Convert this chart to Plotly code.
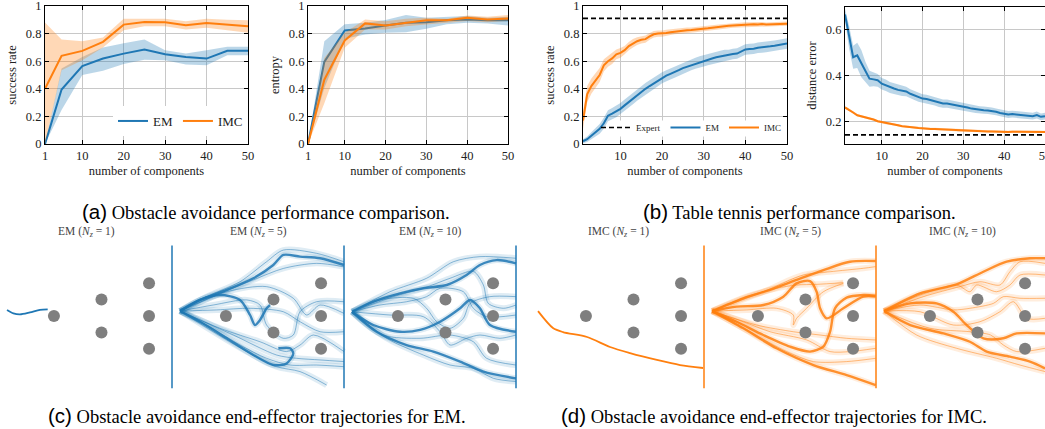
import plotly.graph_objects as go
import numpy as np

W, H = 1045, 429
BLUE = "#1f77b4"
ORANGE = "#ff7f0e"
SERIF = "Liberation Serif"

# ---------------- (a) obstacle avoidance ----------------
OA_X = [1, 5, 10, 15, 20, 25, 30, 35, 40, 45, 50]
OA_SR_EM = [0.0, 0.395, 0.564, 0.619, 0.655, 0.684, 0.65, 0.631, 0.619, 0.675, 0.675]
OA_SR_EM_LO = [0.0, 0.246, 0.50, 0.53, 0.58, 0.61, 0.607, 0.576, 0.571, 0.643, 0.643]
OA_SR_EM_HI = [0.0, 0.547, 0.63, 0.70, 0.73, 0.757, 0.68, 0.655, 0.68, 0.704, 0.704]
OA_SR_IMC = [0.40, 0.639, 0.675, 0.74, 0.865, 0.884, 0.882, 0.86, 0.877, 0.867, 0.853]
OA_SR_IMC_LO = [0.0, 0.535, 0.607, 0.70, 0.824, 0.853, 0.853, 0.83, 0.843, 0.824, 0.807]
OA_SR_IMC_HI = [0.88, 0.757, 0.745, 0.771, 0.908, 0.908, 0.908, 0.89, 0.908, 0.90, 0.896]

OA_ENT_EM = [0.0, 0.595, 0.823, 0.837, 0.859, 0.879, 0.883, 0.896, 0.903, 0.896, 0.896]
OA_ENT_EM_LO = [0.0, 0.405, 0.762, 0.794, 0.806, 0.81, 0.835, 0.867, 0.879, 0.874, 0.859]
OA_ENT_EM_HI = [0.0, 0.745, 0.867, 0.879, 0.898, 0.934, 0.915, 0.92, 0.927, 0.915, 0.922]
OA_ENT_IMC = [0.0, 0.466, 0.75, 0.874, 0.859, 0.879, 0.896, 0.896, 0.915, 0.903, 0.91]
OA_ENT_IMC_LO = [0.0, 0.296, 0.697, 0.83, 0.83, 0.854, 0.867, 0.879, 0.891, 0.883, 0.891]
OA_ENT_IMC_HI = [0.0, 0.624, 0.806, 0.903, 0.89, 0.908, 0.915, 0.908, 0.932, 0.922, 0.934]

# ---------------- (b) table tennis ----------------
TT_X = list(range(1, 51))
TT_EXPERT = 0.91
TT_SR_EM = [0.02, 0.035, 0.06, 0.085, 0.11, 0.15, 0.205, 0.22, 0.235, 0.255,
            0.28, 0.305, 0.33, 0.355, 0.375, 0.40, 0.42, 0.44, 0.46, 0.48,
            0.495, 0.508, 0.52, 0.535, 0.55, 0.56, 0.575, 0.585, 0.595, 0.602,
            0.61, 0.62, 0.628, 0.635, 0.643, 0.645, 0.652, 0.655, 0.67, 0.685,
            0.688, 0.69, 0.698, 0.70, 0.703, 0.708, 0.712, 0.716, 0.722, 0.728]
TT_SR_EM_STD = [0.015, 0.02, 0.025, 0.03, 0.035, 0.04, 0.04, 0.04, 0.042, 0.042,
                0.042, 0.042, 0.042, 0.042, 0.042, 0.042, 0.042, 0.042, 0.042, 0.04,
                0.04, 0.04, 0.04, 0.04, 0.04, 0.04, 0.04, 0.04, 0.04, 0.04,
                0.04, 0.04, 0.04, 0.04, 0.04, 0.038, 0.038, 0.038, 0.038, 0.038,
                0.038, 0.038, 0.038, 0.038, 0.038, 0.038, 0.038, 0.038, 0.038, 0.038]
TT_SR_IMC = [0.17, 0.36, 0.42, 0.46, 0.50, 0.57, 0.60, 0.62, 0.65, 0.66,
             0.68, 0.71, 0.73, 0.745, 0.755, 0.76, 0.78, 0.795, 0.80, 0.80,
             0.805, 0.81, 0.815, 0.82, 0.822, 0.825, 0.826, 0.828, 0.832, 0.836,
             0.838, 0.842, 0.847, 0.85, 0.853, 0.856, 0.858, 0.86, 0.862, 0.866,
             0.866, 0.868, 0.866, 0.869, 0.866, 0.868, 0.87, 0.869, 0.871, 0.872]
TT_SR_IMC_STD = [0.06, 0.06, 0.055, 0.05, 0.05, 0.045, 0.04, 0.04, 0.035, 0.035,
                 0.03, 0.03, 0.03, 0.028, 0.027, 0.026, 0.025, 0.024, 0.023, 0.022,
                 0.022, 0.021, 0.02, 0.02, 0.02, 0.02, 0.019, 0.019, 0.018, 0.018,
                 0.018, 0.018, 0.017, 0.017, 0.017, 0.017, 0.016, 0.016, 0.016, 0.016,
                 0.016, 0.016, 0.016, 0.015, 0.015, 0.015, 0.015, 0.015, 0.015, 0.015]

TT_EXPERT_DE = 0.14
TT_DE_EM = [0.667, 0.568, 0.48, 0.488, 0.452, 0.415, 0.386, 0.383, 0.379, 0.364,
            0.357, 0.347, 0.343, 0.337, 0.332, 0.33, 0.32, 0.313, 0.305, 0.299,
            0.297, 0.292, 0.287, 0.28, 0.277, 0.277, 0.274, 0.27, 0.266, 0.263,
            0.26, 0.255, 0.252, 0.249, 0.248, 0.247, 0.245, 0.241, 0.236, 0.231,
            0.229, 0.231, 0.229, 0.227, 0.226, 0.224, 0.222, 0.227, 0.219, 0.222]
TT_DE_EM_STD = [0.025, 0.05, 0.05, 0.055, 0.06, 0.045, 0.035, 0.03, 0.028, 0.025,
                0.025, 0.024, 0.023, 0.022, 0.022, 0.021, 0.02, 0.02, 0.02, 0.019,
                0.019, 0.019, 0.018, 0.018, 0.018, 0.018, 0.017, 0.017, 0.017, 0.017,
                0.016, 0.016, 0.016, 0.016, 0.016, 0.016, 0.015, 0.015, 0.015, 0.015,
                0.015, 0.015, 0.015, 0.015, 0.015, 0.015, 0.015, 0.015, 0.015, 0.015]
TT_DE_IMC = [0.26, 0.25, 0.238, 0.226, 0.222, 0.216, 0.212, 0.207, 0.2, 0.197,
             0.192, 0.188, 0.186, 0.182, 0.178, 0.177, 0.175, 0.172, 0.17, 0.168,
             0.167, 0.166, 0.166, 0.165, 0.164, 0.163, 0.163, 0.161, 0.159, 0.158,
             0.158, 0.157, 0.157, 0.156, 0.156, 0.155, 0.155, 0.154, 0.153, 0.152,
             0.153, 0.154, 0.154, 0.154, 0.155, 0.154, 0.154, 0.153, 0.153, 0.153]
TT_DE_IMC_STD = [0.005] * 50

# ---------------- (c)/(d) trajectories (task coordinates) ----------------
OBST_X = [0.28, 0.57, 0.57, 0.86, 0.86, 0.86]
OBST_Y = [0.0, 0.10, -0.10, 0.20, 0.0, -0.20]
GOAL_Y = [-0.44, 0.43]

EM1_PATHS = [
    [(-0.006, 0.037), (0.033, 0.016), (0.073, 0.01), (0.134, 0.022), (0.195, 0.037), (0.242, 0.041)],
]
EM1_THICK = [0]

EM5_PATHS = [
    [(0, 0.03), (0.122, 0.098), (0.285, 0.159), (0.447, 0.23), (0.569, 0.311), (0.63, 0.372), (0.732, 0.362), (0.854, 0.352), (1.0, 0.311)],
    [(0, 0.03), (0.163, 0.118), (0.366, 0.209), (0.528, 0.331), (0.63, 0.402), (0.833, 0.382), (1.0, 0.331)],
    [(0, 0.03), (0.224, 0.128), (0.447, 0.22), (0.63, 0.29), (0.833, 0.321), (1.0, 0.30)],
    [(0, 0.03), (0.122, 0.098), (0.244, 0.128), (0.366, 0.098), (0.427, 0.006), (0.457, -0.055), (0.488, -0.024), (0.528, 0.047), (0.549, 0.067)],
    [(0, 0.03), (0.122, -0.035), (0.285, -0.136), (0.447, -0.238), (0.569, -0.299), (0.65, -0.289), (0.691, -0.228), (0.671, -0.197), (0.6, -0.197)],
    [(0, 0.03), (0.163, -0.055), (0.366, -0.177), (0.528, -0.258), (0.671, -0.299), (0.833, -0.299), (1.0, -0.309)],
    [(0, 0.03), (0.203, -0.096), (0.407, -0.217), (0.589, -0.309), (0.732, -0.339), (0.894, -0.421)],
    [(0, 0.03), (0.203, 0.067), (0.407, 0.098), (0.488, 0.067), (0.528, -0.055), (0.63, -0.136), (0.691, -0.116), (0.732, 0.026), (0.833, 0.087), (1.0, 0.087)],
    [(0, 0.03), (0.224, 0.037), (0.427, 0.047), (0.63, 0.026), (0.732, -0.035), (0.854, -0.096), (1.0, -0.096)],
    [(0, 0.03), (0.285, 0.148), (0.528, 0.179), (0.691, 0.108), (0.772, 0.006), (0.854, 0.067), (1.0, 0.016)],
    [(0, 0.03), (0.244, -0.075), (0.488, -0.157), (0.65, -0.217), (0.732, -0.177), (0.813, -0.116), (1.0, -0.217)],
    [(0, 0.03), (0.325, -0.116), (0.589, -0.238), (0.711, -0.258), (0.854, -0.268), (1.0, -0.278)],
]
EM5_THICK = [0, 3, 4]

EM10_PATHS = [
    [(0, 0.026), (0.13, 0.087), (0.293, 0.138), (0.435, 0.169), (0.577, 0.189), (0.699, 0.25), (0.78, 0.311), (0.882, 0.341), (1.0, 0.321)],
    [(0, 0.026), (0.232, 0.148), (0.455, 0.23), (0.618, 0.331), (0.78, 0.362), (1.0, 0.352)],
    [(0, 0.026), (0.171, 0.098), (0.374, 0.108), (0.455, 0.047), (0.516, -0.035), (0.598, -0.075), (0.679, -0.014), (0.72, 0.077), (0.841, 0.118), (1.0, 0.118)],
    [(0, 0.026), (0.13, -0.055), (0.293, -0.096), (0.415, -0.085), (0.537, -0.035), (0.659, 0.047), (0.72, 0.098), (0.78, 0.047), (0.841, -0.055), (1.0, -0.096)],
    [(0, 0.026), (0.15, -0.096), (0.333, -0.177), (0.496, -0.217), (0.659, -0.278), (0.801, -0.339), (1.0, -0.38)],
    [(0, 0.026), (0.191, -0.116), (0.415, -0.136), (0.598, -0.116), (0.74, -0.157), (0.821, -0.258), (1.0, -0.299)],
    [(0, 0.026), (0.171, 0.067), (0.333, 0.087), (0.455, 0.118), (0.537, 0.169), (0.679, 0.148), (0.74, 0.047), (0.821, -0.004), (1.0, 0.006)],
    [(0, 0.026), (0.232, 0.006), (0.435, -0.004), (0.537, -0.096), (0.598, -0.177), (0.699, -0.136), (0.78, -0.116), (0.902, -0.136), (1.0, -0.116)],
    [(0, 0.026), (0.252, 0.118), (0.435, 0.169), (0.598, 0.23), (0.74, 0.272), (0.801, 0.189), (0.831, 0.077), (0.923, 0.047), (1.0, 0.067)],
    [(0, 0.026), (0.211, -0.136), (0.435, -0.238), (0.598, -0.299), (0.74, -0.319), (0.862, -0.38), (1.0, -0.4)],
]
EM10_THICK = [0, 3, 4]

IMC1_PATHS = [
    [(-0.012, 0.03), (0.079, -0.073), (0.14, -0.098), (0.287, -0.128), (0.427, -0.189), (0.549, -0.226), (0.713, -0.268), (0.854, -0.299), (0.994, -0.317)],
]
IMC1_THICK = [0]

IMC5_PATHS = [
    [(0, 0.03), (0.191, 0.108), (0.354, 0.159), (0.516, 0.22), (0.679, 0.28), (0.841, 0.331), (0.998, 0.335)],
    [(0, 0.03), (0.211, 0.118), (0.394, 0.169), (0.516, 0.189), (0.638, 0.193), (0.801, 0.203)],
    [(0, 0.03), (0.15, 0.057), (0.313, 0.067), (0.435, 0.118), (0.516, 0.199), (0.598, 0.213), (0.638, 0.148), (0.659, 0.047), (0.699, -0.014), (0.801, 0.047), (0.923, 0.118), (0.998, 0.118)],
    [(0, 0.03), (0.15, -0.035), (0.313, -0.116), (0.476, -0.187), (0.598, -0.217), (0.679, -0.187), (0.72, -0.096), (0.75, 0.047), (0.821, 0.112), (0.923, 0.128), (0.998, 0.124)],
    [(0, 0.03), (0.191, -0.075), (0.394, -0.197), (0.618, -0.299), (0.821, -0.36), (0.998, -0.421)],
    [(0, 0.03), (0.232, -0.096), (0.455, -0.217), (0.618, -0.278), (0.821, -0.278), (0.998, -0.258)],
    [(0, 0.03), (0.211, 0.037), (0.394, 0.047), (0.496, 0.006), (0.496, -0.055), (0.516, -0.014), (0.577, 0.047), (0.679, 0.148), (0.801, 0.199)],
    [(0, 0.03), (0.272, -0.055), (0.496, -0.096), (0.659, -0.116), (0.821, -0.136), (0.998, -0.146)],
    [(0, 0.03), (0.313, 0.148), (0.557, 0.25), (0.72, 0.27), (0.923, 0.291), (0.998, 0.301)],
    [(0, 0.03), (0.191, -0.035), (0.354, -0.096), (0.577, -0.146), (0.72, -0.217), (0.841, -0.217), (0.998, -0.197)],
]
IMC5_THICK = [0, 2, 3, 4]

IMC10_PATHS = [
    [(0, 0.03), (0.22, 0.138), (0.443, 0.193), (0.606, 0.27), (0.748, 0.331), (0.89, 0.352), (0.982, 0.352)],
    [(0, 0.03), (0.24, 0.118), (0.463, 0.179), (0.585, 0.209), (0.707, 0.189), (0.768, 0.27), (0.829, 0.331), (0.982, 0.321)],
    [(0, 0.03), (0.159, 0.077), (0.321, 0.077), (0.423, 0.026), (0.504, -0.055), (0.606, -0.136), (0.728, -0.136), (0.809, -0.106), (0.982, -0.106)],
    [(0, 0.03), (0.159, -0.055), (0.362, -0.106), (0.524, -0.157), (0.626, -0.217), (0.768, -0.248), (0.89, -0.278), (0.982, -0.319)],
    [(0, 0.03), (0.22, 0.067), (0.423, 0.037), (0.524, 0.047), (0.667, 0.077), (0.728, 0.118), (0.829, 0.108), (0.982, 0.108)],
    [(0, 0.03), (0.22, 0.026), (0.423, -0.055), (0.585, -0.035), (0.707, 0.026), (0.789, 0.087), (0.87, -0.014), (0.982, -0.014)],
    [(0, 0.03), (0.22, 0.128), (0.443, 0.189), (0.524, 0.148), (0.565, 0.189), (0.687, 0.148), (0.768, 0.189), (0.829, 0.25), (0.982, 0.25)],
    [(0, 0.03), (0.199, -0.116), (0.443, -0.197), (0.687, -0.258), (0.829, -0.299), (0.982, -0.339)],
    [(0, 0.03), (0.28, -0.075), (0.524, -0.096), (0.65, -0.116), (0.728, -0.177), (0.809, -0.217), (0.982, -0.197)],
]
IMC10_THICK = [0, 2, 3]

# ---------------------------------------------------------------
fig = go.Figure()


def rgba(hexc, a):
    h = hexc.lstrip("#")
    return "rgba(%d,%d,%d,%s)" % (int(h[0:2], 16), int(h[2:4], 16), int(h[4:6], 16), a)


def band(x, lo, hi, color, ax):
    fig.add_trace(go.Scatter(x=list(x) + list(x)[::-1], y=list(hi) + list(lo)[::-1],
                             fill="toself", fillcolor=rgba(color, 0.3), line=dict(width=0),
                             mode="lines", showlegend=False, hoverinfo="skip",
                             xaxis="x" + ax, yaxis="y" + ax))


def mean_line(x, y, color, ax, name=None, legend=None, dash=None, width=2):
    fig.add_trace(go.Scatter(x=x, y=y, mode="lines", line=dict(color=color, width=width, dash=dash),
                             name=name, showlegend=name is not None,
                             legend=legend or "legend", xaxis="x" + ax, yaxis="y" + ax))


def px2dom(a, b):
    return [a / W, b / W]


def py2dom(top, bot):
    return [1 - bot / H, 1 - top / H]


# --- panel (a) success
band(OA_X, OA_SR_EM_LO, OA_SR_EM_HI, BLUE, "")
mean_line(OA_X, OA_SR_EM, BLUE, "", name="EM", legend="legend")
band(OA_X, OA_SR_IMC_LO, OA_SR_IMC_HI, ORANGE, "")
mean_line(OA_X, OA_SR_IMC, ORANGE, "", name="IMC", legend="legend")
# --- panel (a) entropy
band(OA_X, OA_ENT_EM_LO, OA_ENT_EM_HI, BLUE, "2")
mean_line(OA_X, OA_ENT_EM, BLUE, "2")
band(OA_X, OA_ENT_IMC_LO, OA_ENT_IMC_HI, ORANGE, "2")
mean_line(OA_X, OA_ENT_IMC, ORANGE, "2")

# --- panel (b) success
em = np.array(TT_SR_EM); ems = np.array(TT_SR_EM_STD)
im = np.array(TT_SR_IMC); ims = np.array(TT_SR_IMC_STD)
mean_line([1, 50], [TT_EXPERT, TT_EXPERT], "black", "3", name="Expert", legend="legend2", dash="5px,3px", width=1.6)
band(TT_X, em - ems, em + ems, BLUE, "3")
mean_line(TT_X, TT_SR_EM, BLUE, "3", name="EM", legend="legend2")
band(TT_X, im - ims, im + ims, ORANGE, "3")
mean_line(TT_X, TT_SR_IMC, ORANGE, "3", name="IMC", legend="legend2")
# --- panel (b) distance error
de = np.array(TT_DE_EM); des = np.array(TT_DE_EM_STD)
di = np.array(TT_DE_IMC); dis = np.array(TT_DE_IMC_STD)
mean_line([1, 50], [TT_EXPERT_DE, TT_EXPERT_DE], "black", "4", dash="5px,3px", width=1.6)
band(TT_X, de - des, de + des, BLUE, "4")
mean_line(TT_X, TT_DE_EM, BLUE, "4")
band(TT_X, di - dis, di + dis, ORANGE, "4")
mean_line(TT_X, TT_DE_IMC, ORANGE, "4")

tickfont = dict(family=SERIF, size=12.5, color="#222")
titlefont = dict(family=SERIF, size=12.5, color="#222")


def top_axes(n, xd, yd, xr, yr, xt, yt, ytt, ytitle, xtt=None):
    common = dict(showline=True, linecolor="black", linewidth=1.1, mirror="ticks",
                  ticks="inside", ticklen=4, tickcolor="black", showgrid=True,
                  gridcolor="#c8c8c8", gridwidth=1, zeroline=False, tickfont=tickfont,
                  fixedrange=True, ticklabeloverflow="allow", automargin=False)
    sfx = "" if n == 1 else str(n)
    fig.layout["xaxis" + sfx] = dict(domain=xd, range=xr, tickvals=xt,
                                     ticktext=xtt or [str(v) for v in xt],
                                     anchor="y" + sfx,
                                     title=dict(text="number of components", font=titlefont, standoff=4),
                                     **common)
    fig.layout["yaxis" + sfx] = dict(domain=yd, range=yr, tickvals=yt, ticktext=ytt,
                                     anchor="x" + sfx,
                                     title=dict(text=ytitle, font=titlefont, standoff=6),
                                     **common)


Y01 = [0, 0.2, 0.4, 0.6, 0.8, 1.0]
Y01T = ["0", "0.2", "0.4", "0.6", "0.8", "1"]
top_axes(1, px2dom(45, 248), py2dom(6, 144), [1, 50], [0, 1], [1, 10, 20, 30, 40, 50], Y01, Y01T, "success rate")
top_axes(2, px2dom(308, 508), py2dom(6, 144), [1, 50], [0, 1], [1, 10, 20, 30, 40, 50], Y01, Y01T, "entropy")
top_axes(3, px2dom(583, 787), py2dom(6, 144), [1, 50], [0, 1], [10, 20, 30, 40, 50], Y01, Y01T, "success rate")
top_axes(4, px2dom(845, 1045), py2dom(7, 144), [1, 50], [0.1, 0.7], [10, 20, 30, 40, 50],
         [0.2, 0.4, 0.6], ["0.2", "0.4", "0.6"], "distance error")

# white patch behind the table-tennis legend (hides grid lines, not data)
fig.add_shape(type="rect", xref="x3", yref="y3", x0=9.0, x1=50, y0=0.055, y1=0.17,
              fillcolor="white", line=dict(width=0), layer="between")

# --- bottom trajectory panels
PANELS = [
    ("EM", "1", 0, EM1_PATHS, EM1_THICK, BLUE),
    ("EM", "5", 172, EM5_PATHS, EM5_THICK, BLUE),
    ("EM", "10", 344, EM10_PATHS, EM10_THICK, BLUE),
    ("IMC", "1", 532, IMC1_PATHS, IMC1_THICK, ORANGE),
    ("IMC", "5", 704, IMC5_PATHS, IMC5_THICK, ORANGE),
    ("IMC", "10", 876, IMC10_PATHS, IMC10_THICK, ORANGE),
]
SCALE = 164.0
annotations = []
for k, (meth, nz, left, paths, thick, col) in enumerate(PANELS):
    ax = str(5 + k)
    right = min(left + 176, W)
    wpx = right - left
    fig.layout["xaxis" + ax] = dict(domain=px2dom(left, right), range=[-8 / SCALE, (wpx - 8) / SCALE],
                                    visible=False, anchor="y" + ax, fixedrange=True, automargin=False)
    fig.layout["yaxis" + ax] = dict(domain=py2dom(240, 392), range=[-76 / SCALE, 76 / SCALE],
                                    visible=False, anchor="x" + ax, fixedrange=True, automargin=False)
    single = nz == "1"
    for i, p in enumerate(paths):
        xs = [q[0] for q in p]
        ys = [q[1] for q in p]
        if not single:
            fig.add_trace(go.Scatter(x=xs, y=ys, mode="lines",
                                     line=dict(color=rgba(col, 0.14), width=6, shape="spline", smoothing=1.0),
                                     showlegend=False, hoverinfo="skip", xaxis="x" + ax, yaxis="y" + ax))
        if i in thick:
            w, a = (1.8, 1.0) if single else (2.4, 0.85)
        else:
            w, a = 1.0, 0.5
        fig.add_trace(go.Scatter(x=xs, y=ys, mode="lines",
                                 line=dict(color=rgba(col, a), width=w, shape="spline", smoothing=0.8),
                                 showlegend=False, hoverinfo="skip", xaxis="x" + ax, yaxis="y" + ax))
    fig.add_trace(go.Scatter(x=OBST_X, y=OBST_Y, mode="markers",
                             marker=dict(color="#7f7f7f", size=12, line=dict(width=0)),
                             showlegend=False, hoverinfo="skip", xaxis="x" + ax, yaxis="y" + ax))
    fig.add_trace(go.Scatter(x=[1.0, 1.0], y=GOAL_Y, mode="lines", line=dict(color=col, width=1.5),
                             showlegend=False, hoverinfo="skip", xaxis="x" + ax, yaxis="y" + ax))
    annotations.append(dict(text="%s (<i>N</i><sub><i>z</i></sub> = %s)" % (meth, nz),
                            x=(left + 86) / W, y=1 - 232 / H, xref="paper", yref="paper",
                            showarrow=False, font=dict(family=SERIF, size=11.5, color="#444"),
                            xanchor="center", yanchor="middle"))

CAPTIONS = [
    ("(a)", "Obstacle avoidance performance comparison.", 266, 211),
    ("(b)", "Table tennis performance comparison.", 799, 211),
    ("(c)", "Obstacle avoidance end-effector trajectories for EM.", 257, 415),
    ("(d)", "Obstacle avoidance end-effector trajectories for IMC.", 774, 415),
]
for lab, txt, cx, cy in CAPTIONS:
    annotations.append(dict(
        text="<span style=\"font-family:'Liberation Sans';font-size:20.5px\">%s</span> %s" % (lab, txt),
        x=cx / W, y=1 - cy / H, xref="paper", yref="paper", showarrow=False,
        font=dict(family=SERIF, size=18.5, color="black"), xanchor="center", yanchor="middle"))

fig.update_layout(
    width=W, height=H, margin=dict(l=0, r=0, t=0, b=0, autoexpand=False),
    paper_bgcolor="white", plot_bgcolor="rgba(0,0,0,0)",
    annotations=annotations,
    legend=dict(orientation="h", x=248 / W, y=1 - 136 / H, xanchor="right", yanchor="bottom",
                bgcolor="white", font=dict(family=SERIF, size=13, color="#222"),
                itemwidth=30, tracegroupgap=0),
    legend2=dict(orientation="h", x=787 / W, y=1 - 142 / H, xanchor="right", yanchor="bottom",
                 bgcolor="rgba(0,0,0,0)", font=dict(family=SERIF, size=9, color="#222"),
                 itemwidth=30, tracegroupgap=0),
    hovermode=False,
)

fig.write_html("out.html", config={"displayModeBar": False},
               post_script="document.body.style.margin='0';document.body.style.overflow='hidden';")
